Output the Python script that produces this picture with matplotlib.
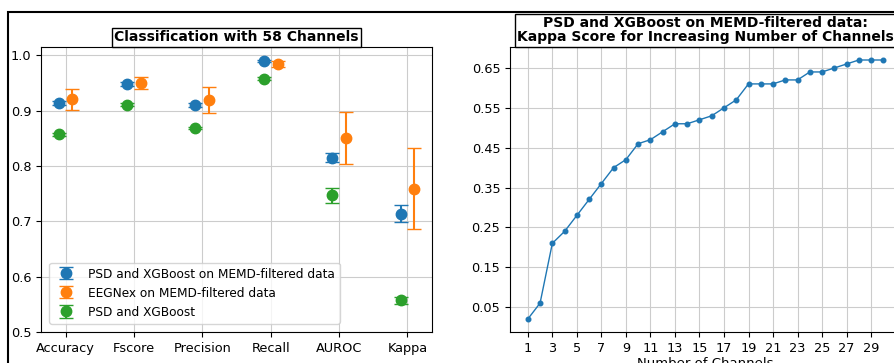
import matplotlib.pyplot as plt
from matplotlib.patches import Rectangle
import numpy as np

metrics = ['Accuracy', 'Fscore', 'Precision', 'Recall', 'AUROC', 'Kappa']

memd_xgb = [0.914, 0.948, 0.910, 0.990, 0.815, 0.714]
memd_xgb_err = [0.004, 0.003, 0.004, 0.002, 0.008, 0.015]
eegnex = [0.921, 0.950, 0.919, 0.984, 0.851, 0.759]
eegnex_err = [0.019, 0.011, 0.023, 0.005, 0.047, 0.073]
xgb = [0.857, 0.911, 0.869, 0.958, 0.747, 0.557]
xgb_err = [0.002, 0.002, 0.002, 0.002, 0.014, 0.006]

channels = list(range(1, 31))
kappa = [0.02, 0.06, 0.21, 0.24, 0.28, 0.32, 0.36, 0.40, 0.42, 0.46,
         0.47, 0.49, 0.51, 0.51, 0.52, 0.53, 0.55, 0.57, 0.61, 0.61,
         0.61, 0.62, 0.62, 0.64, 0.64, 0.65, 0.66, 0.67, 0.67, 0.67]

fig = plt.figure(figsize=(8.94, 3.63), dpi=100)
ax1 = fig.add_axes([0.0459, 0.0854, 0.4373, 0.785])
ax2 = fig.add_axes([0.5705, 0.0854, 0.4375, 0.785])

title_box = dict(boxstyle='square,pad=0.15', facecolor='white', edgecolor='black', linewidth=1)
grid_style = dict(color='#cccccc', linewidth=0.8)

# left: metrics with error bars
x = np.arange(len(metrics))
ax1.errorbar(x - 0.1, memd_xgb, yerr=memd_xgb_err, fmt='o', markersize=7.5, capsize=5,
             color='C0', label='PSD and XGBoost on MEMD-filtered data')
ax1.errorbar(x + 0.1, eegnex, yerr=eegnex_err, fmt='o', markersize=7.5, capsize=5,
             color='C1', label='EEGNex on MEMD-filtered data')
ax1.errorbar(x - 0.1, xgb, yerr=xgb_err, fmt='o', markersize=7.5, capsize=5,
             color='C2', label='PSD and XGBoost')
ax1.set_xticks(x)
ax1.set_xticklabels(metrics)
ax1.set_ylim(0.5, 1.015)
ax1.set_yticks([0.5, 0.6, 0.7, 0.8, 0.9, 1.0])
ax1.tick_params(labelsize=9.3)
ax1.grid(True, **grid_style)
ax1.set_title('Classification with 58 Channels', fontweight='bold', fontsize=10,
              bbox=title_box, pad=4)
ax1.legend(loc='lower left', fontsize=8.7, borderaxespad=0.7)

# right: kappa vs number of channels
ax2.plot(channels, kappa, 'o-', color='C0', markersize=3.3, linewidth=1)
ax2.set_xticks(range(1, 31, 2))
ax2.set_yticks([0.05, 0.15, 0.25, 0.35, 0.45, 0.55, 0.65])
ax2.tick_params(labelsize=9.3)
ax2.grid(True, **grid_style)
ax2.set_xlabel('Number of Channels', fontsize=9.5, labelpad=2)
ax2.set_title('PSD and XGBoost on MEMD-filtered data:\nKappa Score for Increasing Number of Channels',
              fontweight='bold', fontsize=10, bbox=title_box, pad=4, linespacing=1.0)

# frame around the figure
fig.patches.append(Rectangle((8 / 894, -0.1), 1.2, 1.1 - 12 / 363, transform=fig.transFigure,
                             fill=False, edgecolor='black', linewidth=1.5, clip_on=False))

plt.savefig('out.png', dpi=100)
